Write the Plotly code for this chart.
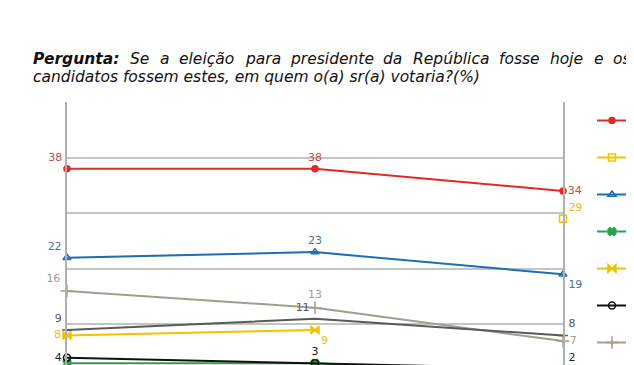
import plotly.graph_objects as go

# ---- data ----
periodos = ["Jul/2014", "Ago/2014 (1ª)", "Ago/2014 (2ª)"]
nomes = ["Dilma", "Marina", "Aécio", "Pastor Everaldo", "Eduardo Campos",
         "Outros", "Brancos/Nulos", "Não sabe"]
dilma = [38, 38, 34]
marina = [None, None, 29]
aecio = [22, 23, 19]
everaldo = [3, 3, 1]
eduardo = [8, 9, None]
outros = [4, 3, 2]
brancos = [16, 13, 7]
nao_sabe = [9, 11, 8]

valores = [dilma, marina, aecio, everaldo, eduardo, outros, brancos, nao_sabe]

titulo_l1 = ["<b>Pergunta:</b>", "Se", "a", "eleição", "para", "presidente", "da",
             "República", "fosse", "hoje", "e", "os"]
titulo_l2 = "candidatos fossem estes, em quem o(a) sr(a) votaria?(%)"

# ---- styles / layout (page body adds an 8px offset) ----
OFF = 8
W, H = 626, 392
ML, MT, MB = 67 - OFF, 102 - OFF, 20
PW = 496
MR = W - ML - PW
PH = H - MT - MB
cores = ["#e02a2a", "#f2c200", "#1f6db4", "#2e9e48", "#f2c200", "#111111", "#a39c90", "#5a5a5a"]
cores_txt = ["#b9504d", "#e8bd20", "#4d6f9c", "#2e9e48", "#e8bd20", "#222222", "#a39c90", "#555555"]
simbolos = ["circle", "square-open", "triangle-up-open", "x", "bowtie", "circle-open",
            "cross-thin-open", "line-ew-open"]
tamanhos = [6, 7, 7, 7, 8, 7, 9, 7]
posicoes = [
    ["top left", "top center", "middle right"],
    ["top right", "top right", "top right"],
    ["top left", "top center", "bottom right"],
    ["bottom left", "bottom center", "bottom right"],
    ["middle left", "bottom right", "bottom right"],
    ["middle left", "top center", "top right"],
    ["top left", "top center", "middle right"],
    ["top left", "top left", "top right"],
]
# screen pixel start of each word in the justified first title line
x_palavras = [33, 130, 159.6, 179.3, 244.7, 290.1, 383.2, 412.7, 499.4, 550.2, 593.6, 613.3]

fig = go.Figure()
for i, (nome, vals) in enumerate(zip(nomes, valores)):
    fig.add_trace(go.Scatter(
        x=periodos, y=vals, name=nome, mode="lines+markers+text",
        text=["" if v is None else str(v) for v in vals],
        textposition=posicoes[i],
        textfont=dict(family="DejaVu Sans", size=11, color=cores_txt[i]),
        line=dict(color=cores[i], width=2),
        marker=dict(symbol=simbolos[i], size=tamanhos[i], color=cores[i],
                    line=dict(color=cores[i], width=1.5)),
        legendgroup=nome, cliponaxis=False,
    ))

fonte_titulo = dict(family="DejaVu Sans", size=15.5, color="#111111")
for palavra, px in zip(titulo_l1, x_palavras):
    fig.add_annotation(
        xref="paper", yref="paper", x=(px - OFF - 2 - ML) / PW, y=1,
        xanchor="left", yanchor="middle",
        yshift=MT - (59 - OFF), showarrow=False, align="left",
        text="<i>" + palavra + "</i>", font=fonte_titulo,
    )
fig.add_annotation(
    xref="paper", yref="paper", x=(33 - OFF - 2 - ML) / PW, y=1,
    xanchor="left", yanchor="middle",
    yshift=MT - (77 - OFF), showarrow=False, align="left",
    text="<i>" + titulo_l2 + "</i>", font=fonte_titulo,
)

fig.update_layout(
    width=W, height=H,
    margin=dict(l=ML, r=MR, t=MT, b=MB, autoexpand=False),
    paper_bgcolor="white", plot_bgcolor="white",
    showlegend=True,
    legend=dict(x=(632 - OFF - 40 - ML) / PW, xanchor="left",
                y=1 - 4 / PH, yanchor="top",
                font=dict(family="DejaVu Sans", size=10, color="#333"),
                tracegroupgap=18, itemwidth=30, bgcolor="rgba(0,0,0,0)"),
    xaxis=dict(type="category", range=[0, 2], showgrid=False, showticklabels=False,
               ticks="", showline=False, zeroline=False),
    yaxis=dict(range=[0, 50], dtick=10, showgrid=True, gridcolor="#c4c4c4", gridwidth=1.5,
               showticklabels=False, ticks="", zeroline=False,
               showline=True, linecolor="#b0b0b0", linewidth=1.5, mirror=True),
)

fig.write_html("out.html")
